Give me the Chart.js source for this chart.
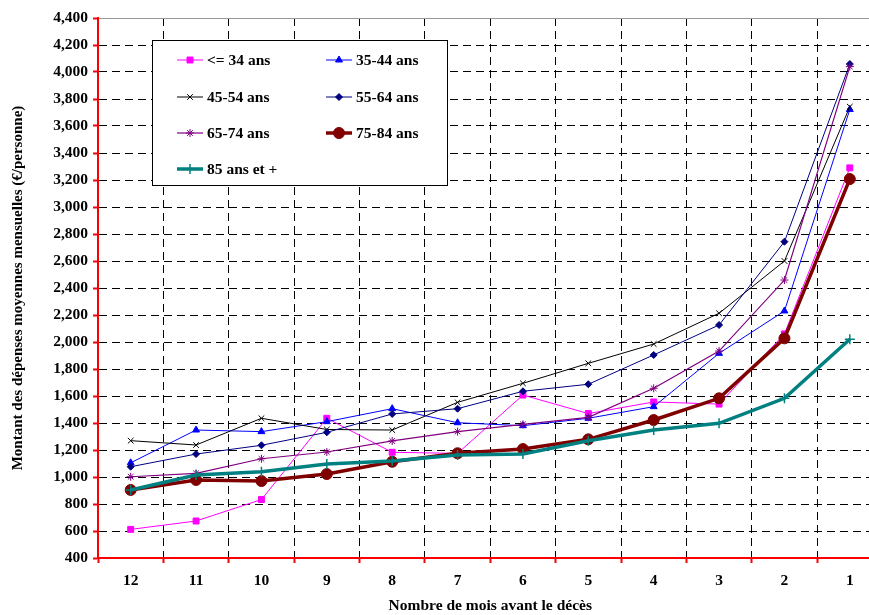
<!DOCTYPE html>
<html>
<head>
<meta charset="utf-8">
<script src="https://cdn.jsdelivr.net/npm/chart.js@4/dist/chart.umd.min.js"></script>
<style>
  html, body { margin: 0; padding: 0; overflow: hidden; background: #fff; }
  #wrap { width: 869px; height: 615px; overflow: hidden; position: relative; }
  canvas { display: block; background: #fff; }
</style>
</head>
<body>
<div id="wrap"><canvas id="c" width="889" height="615"></canvas></div>
<script>
// ---- Data ----
const categories = ['12', '11', '10', '9', '8', '7', '6', '5', '4', '3', '2', '1'];
const seriesNames = ['<= 34 ans', '35-44 ans', '45-54 ans', '55-64 ans', '65-74 ans', '75-84 ans', '85 ans et +'];
const age34 = [612, 674, 833, 1435, 1183, 1175, 1607, 1470, 1556, 1540, 2060, 3290];
const age35_44 = [1105, 1348, 1336, 1410, 1506, 1402, 1380, 1435, 1521, 1916, 2230, 3722];
const age45_54 = [1269, 1237, 1435, 1352, 1348, 1553, 1694, 1842, 1985, 2213, 2600, 3743];
const age55_64 = [1076, 1170, 1235, 1331, 1467, 1506, 1635, 1687, 1904, 2126, 2743, 4059];
const age65_74 = [1002, 1027, 1135, 1185, 1267, 1336, 1390, 1442, 1657, 1933, 2459, 4040];
const age75_84 = [904, 978, 970, 1022, 1113, 1176, 1207, 1279, 1422, 1583, 2027, 3207];
const age85 = [904, 1015, 1039, 1096, 1118, 1163, 1170, 1269, 1348, 1398, 1583, 2020];
const yMin = 400, yMax = 4400, yStep = 200;
const xTitle = 'Nombre de mois avant le décès';
const yTitle = 'Montant des dépenses moyennes mensuelles (€/personne)';

const FONT = '"Liberation Serif", "Times New Roman", serif';

function ds(label, data, color, style, radius, width, order, pbw) {
  return {
    label, data,
    borderColor: color, backgroundColor: color,
    pointBackgroundColor: color, pointBorderColor: color,
    pointStyle: style, pointRadius: radius, pointBorderWidth: pbw,
    borderWidth: width, tension: 0, fill: false, order
  };
}

const datasets = [
  ds(seriesNames[0], age34, '#FF00FF', 'rect', 4.2, 1, 7, 1),
  ds(seriesNames[1], age35_44, '#0000FF', 'triangle', 4, 1, 6, 1),
  ds(seriesNames[2], age45_54, '#000000', 'crossRot', 4, 1, 5, 1),
  ds(seriesNames[3], age55_64, '#000080', 'rectRot', 3.5, 1, 4, 1),
  ds(seriesNames[4], age65_74, '#800080', 'star', 4, 1.2, 3, 1),
  ds(seriesNames[5], age75_84, '#800000', 'circle', 5.5, 3.5, 2, 1),
  ds(seriesNames[6], age85, '#008080', 'cross', 5, 3.5, 1, 1.5)
];

function marker(ctx, style, x, y, r, color, bw) {
  ctx.save();
  ctx.fillStyle = color; ctx.strokeStyle = color; ctx.lineWidth = bw;
  ctx.beginPath();
  if (style === 'rect') {
    const s = r * Math.SQRT1_2;
    ctx.rect(x - s, y - s, 2 * s, 2 * s); ctx.fill(); ctx.stroke();
  } else if (style === 'triangle') {
    ctx.moveTo(x, y - r); ctx.lineTo(x + r * 0.866, y + r * 0.5); ctx.lineTo(x - r * 0.866, y + r * 0.5);
    ctx.closePath(); ctx.fill(); ctx.stroke();
  } else if (style === 'rectRot') {
    ctx.moveTo(x, y - r); ctx.lineTo(x + r, y); ctx.lineTo(x, y + r); ctx.lineTo(x - r, y);
    ctx.closePath(); ctx.fill(); ctx.stroke();
  } else if (style === 'circle') {
    ctx.arc(x, y, r, 0, Math.PI * 2); ctx.fill(); ctx.stroke();
  } else if (style === 'cross') {
    ctx.moveTo(x - r, y); ctx.lineTo(x + r, y); ctx.moveTo(x, y - r); ctx.lineTo(x, y + r); ctx.stroke();
  } else if (style === 'crossRot') {
    const s = r * Math.SQRT1_2;
    ctx.moveTo(x - s, y - s); ctx.lineTo(x + s, y + s); ctx.moveTo(x + s, y - s); ctx.lineTo(x - s, y + s); ctx.stroke();
  } else if (style === 'star') {
    const s = r * Math.SQRT1_2;
    ctx.moveTo(x - r, y); ctx.lineTo(x + r, y); ctx.moveTo(x, y - r); ctx.lineTo(x, y + r);
    ctx.moveTo(x - s, y - s); ctx.lineTo(x + s, y + s); ctx.moveTo(x + s, y - s); ctx.lineTo(x - s, y + s); ctx.stroke();
  }
  ctx.restore();
}

const boxLegend = {
  id: 'boxLegend',
  afterDatasetsDraw(chart) {
    const ctx = chart.ctx;
    ctx.save();
    ctx.fillStyle = '#fff'; ctx.strokeStyle = '#000'; ctx.lineWidth = 1;
    ctx.fillRect(152.5, 40.5, 295, 145);
    ctx.strokeRect(152.5, 40.5, 295, 145);
    const rows = [60, 97, 133, 169];
    const colX = [177, 326];
    chart.data.datasets.forEach((d, i) => {
      const x0 = colX[i % 2], y = rows[Math.floor(i / 2)];
      ctx.save();
      ctx.strokeStyle = d.borderColor; ctx.lineWidth = d.borderWidth;
      ctx.beginPath(); ctx.moveTo(x0, y); ctx.lineTo(x0 + 26, y); ctx.stroke();
      ctx.restore();
      marker(ctx, d.pointStyle, x0 + 13, y, d.pointRadius, d.borderColor, d.pointBorderWidth);
      ctx.fillStyle = '#000';
      ctx.font = 'bold 15.5px ' + FONT;
      ctx.textBaseline = 'middle'; ctx.textAlign = 'left';
      ctx.fillText(d.label, x0 + 30, y + 1);
    });
    ctx.restore();
  }
};

new Chart(document.getElementById('c'), {
  type: 'line',
  data: { labels: categories, datasets },
  plugins: [boxLegend],
  options: {
    responsive: false, animation: false, devicePixelRatio: 1,
    layout: { padding: { top: 18, left: 0, right: 1, bottom: 0 } },
    plugins: { legend: { display: false }, tooltip: { enabled: false } },
    scales: {
      x: {
        offset: true,
        grid: {
          offset: true,
          color: c => (c.index === 0 ? 'rgba(0,0,0,0)' : '#000'),
          lineWidth: 1, tickColor: '#ff0000', tickLength: 5, tickWidth: 2, tickBorderDash: []
        },
        border: { color: '#ff0000', width: 2, dash: [8, 5] },
        ticks: { font: { family: FONT, size: 15.5, weight: 'bold' }, color: '#000', padding: 9, maxRotation: 0, autoSkip: false },
        title: { display: true, text: xTitle, color: '#000', font: { family: FONT, size: 15.5, weight: 'bold' }, padding: 0 },
        afterFit: s => { s.height = 57; }
      },
      y: {
        min: yMin, max: yMax,
        ticks: {
          stepSize: yStep, color: '#000', padding: 5,
          font: { family: FONT, size: 15.5, weight: 'bold' },
          callback: v => Number(v).toLocaleString('en-US')
        },
        grid: {
          color: c => (c.tick && c.tick.value === yMax) ? '#9a9a9a' : ((c.tick && c.tick.value === yMin) ? 'rgba(0,0,0,0)' : '#000'),
          lineWidth: 1, tickColor: '#ff0000', tickLength: 5, tickWidth: 2, tickBorderDash: []
        },
        border: { color: '#ff0000', width: 2, dash: c => (c.tick && c.tick.value === yMax) ? [] : [8, 5] },
        title: { display: true, text: yTitle, color: '#000', font: { family: FONT, size: 15, weight: 'bold' }, padding: 9 },
        afterFit: s => { s.width = 98; }
      }
    }
  }
});
</script>
</body>
</html>
